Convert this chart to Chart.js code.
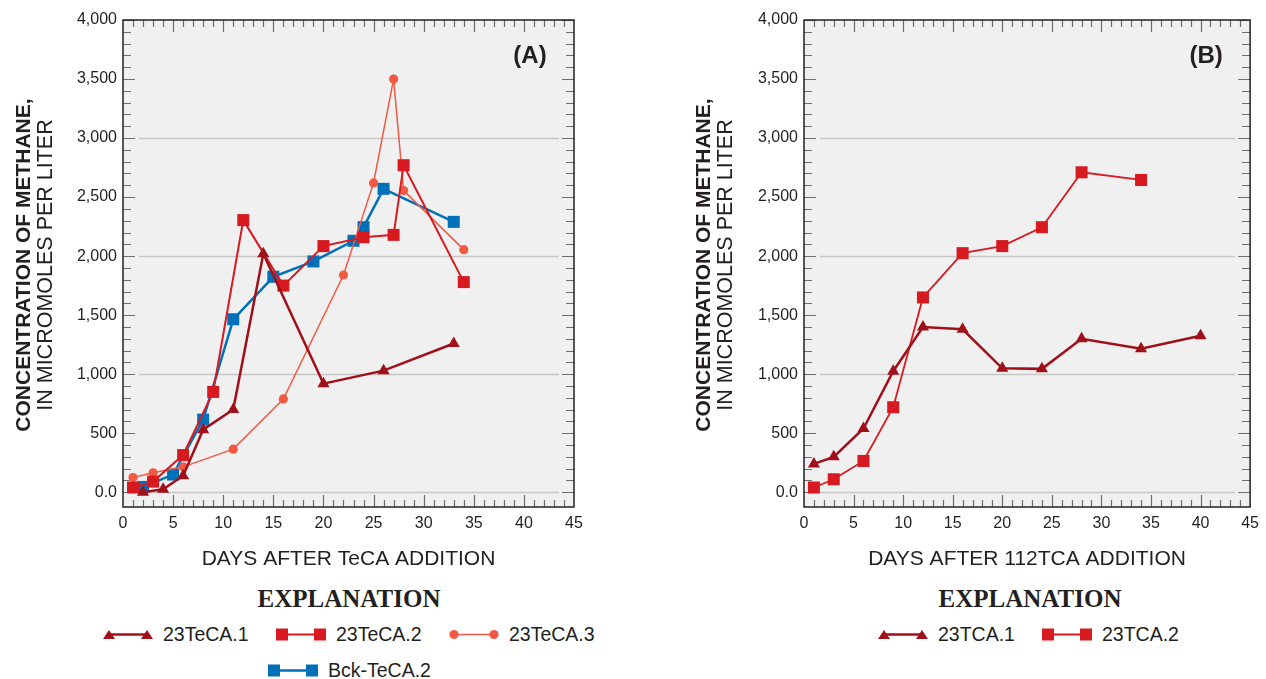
<!DOCTYPE html>
<html>
<head>
<meta charset="utf-8">
<script src="https://cdn.jsdelivr.net/npm/chart.js@4"></script>
<style>
  html, body { margin: 0; padding: 0; background: #fff; }
  #page { position: relative; width: 1266px; height: 679px; overflow: hidden; font-family: "Liberation Sans", Arial, sans-serif; color: #231f20; }
  .panel { position: absolute; top: 0; height: 580px; }
  #wrapA { left: 0; width: 633px; }
  #wrapB { left: 680px; width: 586px; }
  .ytitle { position: absolute; width: 420px; height: 46px; transform: rotate(-90deg); text-align: center; font-size: 21.5px; line-height: 22px; white-space: nowrap; }
  .ytitle b { font-weight: bold; font-size: 21px; }
  .expl { position: absolute; font-family: "Liberation Serif", "Times New Roman", serif; font-weight: bold; font-size: 25px; text-align: center; width: 300px; }
  .leg { position: absolute; display: flex; align-items: center; font-size: 19.5px; white-space: nowrap; }
  .leg svg { margin-right: 10px; }
</style>
</head>
<body>
<div id="page">
  <div class="panel" id="wrapA"><canvas id="chartA"></canvas></div>
  <div class="panel" id="wrapB"><canvas id="chartB"></canvas></div>

  <div class="ytitle" style="left:-175px; top:242px;"><b>CONCENTRATION OF METHANE,</b><br>IN MICROMOLES PER LITER</div>
  <div class="ytitle" style="left:505px; top:242px;"><b>CONCENTRATION OF METHANE,</b><br>IN MICROMOLES PER LITER</div>

  <div class="expl" style="left:199px; top:585px;">EXPLANATION</div>
  <div class="expl" style="left:880px; top:585px;">EXPLANATION</div>

  <div id="legendA"></div>
  <div id="legendB"></div>
</div>

<script>
// Tick labels shared by both panels
const yTickValues = [0, 500, 1000, 1500, 2000, 2500, 3000, 3500, 4000];
const yTickLabels = ['0.0', '500', '1,000', '1,500', '2,000', '2,500', '3,000', '3,500', '4,000'];
const xTickValues = [0, 5, 10, 15, 20, 25, 30, 35, 40, 45];

// Panel A: methane after TeCA addition (micromoles per liter)
const daysTeCA1 = [2, 4, 6, 8, 11, 14, 20, 26, 33];
const methaneTeCA1 = [0, 25, 140, 530, 700, 2020, 920, 1030, 1260];

const daysTeCA2 = [1, 3, 6, 9, 12, 16, 20, 24, 27, 28, 34];
const methaneTeCA2 = [40, 90, 315, 850, 2305, 1750, 2085, 2160, 2180, 2770, 1780];

const daysTeCA3 = [1, 3, 6, 11, 16, 22, 25, 27, 28, 34];
const methaneTeCA3 = [125, 165, 215, 365, 790, 1840, 2620, 3500, 2555, 2055];

const daysBck2 = [2, 5, 8, 11, 15, 19, 23, 24, 26, 33];
const methaneBck2 = [45, 150, 615, 1465, 1825, 1955, 2130, 2245, 2570, 2290];

// Panel B: methane after 112TCA addition
const daysTCA1 = [1, 3, 6, 9, 12, 16, 20, 24, 28, 34, 40];
const methaneTCA1 = [240, 300, 540, 1025, 1400, 1380, 1050, 1045, 1300, 1215, 1325];

const daysTCA2 = [1, 3, 6, 9, 12, 16, 20, 24, 28, 34];
const methaneTCA2 = [40, 110, 265, 720, 1650, 2025, 2085, 2245, 2710, 2645];

const seriesNamesA = ['23TeCA.1', '23TeCA.2', '23TeCA.3', 'Bck-TeCA.2'];
const seriesNamesB = ['23TCA.1', '23TCA.2'];

const DARK_RED = '#a0101a';
const RED = '#d71920';
const SALMON = '#f05a45';
const BLUE = '#0070b8';

const pairs = (xs, ys) => xs.map((x, i) => ({ x: x, y: ys[i] }));

function series(label, xs, ys, color, style, radius, width) {
  return {
    label: label,
    data: pairs(xs, ys),
    borderColor: color,
    backgroundColor: color,
    borderWidth: width,
    pointStyle: style,
    pointRadius: radius,
    pointHoverRadius: radius,
    pointBorderWidth: 0,
    pointBackgroundColor: color,
    tension: 0
  };
}

// Plot frame, inside tick marks, inset grid lines and panel letter
const framePlugin = {
  id: 'frame',
  beforeDatasetsDraw(chart, args, opts) {
    const { ctx, chartArea: a, scales } = chart;
    const xs = scales.x, ys = scales.y;
    ctx.save();
    ctx.fillStyle = '#f0f0f0';
    ctx.fillRect(a.left, a.top, a.right - a.left, a.bottom - a.top);

    // grid lines every 1,000
    ctx.strokeStyle = '#c6c6c6';
    ctx.lineWidth = 1.5;
    [0, 1000, 2000, 3000].forEach(v => {
      const y = Math.round(ys.getPixelForValue(v)) + 0.5;
      ctx.beginPath();
      ctx.moveTo(a.left + 16, y);
      ctx.lineTo(a.right - 15, y);
      ctx.stroke();
    });

    // tick marks pointing inward
    ctx.strokeStyle = '#6d6e71';
    ctx.lineWidth = 1.2;
    for (let v = 0; v <= 4000; v += 100) {
      const y = Math.round(ys.getPixelForValue(v)) + 0.5;
      const len = v % 500 === 0 ? 12 : 8;
      ctx.beginPath();
      ctx.moveTo(a.left, y); ctx.lineTo(a.left + len, y);
      ctx.moveTo(a.right, y); ctx.lineTo(a.right - len, y);
      ctx.stroke();
    }
    for (let d = 1; d < 45; d++) {
      const x = Math.round(xs.getPixelForValue(d)) + 0.5;
      const len = d % 5 === 0 ? 12 : 7;
      ctx.beginPath();
      ctx.moveTo(x, a.top); ctx.lineTo(x, a.top + len);
      ctx.moveTo(x, a.bottom); ctx.lineTo(x, a.bottom - len);
      ctx.stroke();
    }

    // panel letter
    ctx.fillStyle = '#231f20';
    ctx.font = 'bold 24px "Liberation Sans", Arial, sans-serif';
    ctx.textAlign = 'center';
    ctx.textBaseline = 'middle';
    ctx.fillText(opts.letter, a.right - 44, a.top + 36);
    ctx.restore();
  },
  afterDatasetsDraw(chart) {
    const { ctx, chartArea: a } = chart;
    ctx.save();
    ctx.strokeStyle = '#231f20';
    ctx.lineWidth = 1.5;
    ctx.strokeRect(a.left, a.top, a.right - a.left, a.bottom - a.top);
    ctx.restore();
  }
};

function makeChart(canvasId, datasets, xTitle, yAxisWidth, rightPad, letter) {
  const tickFont = { family: '"Liberation Sans", Arial, sans-serif', size: 16 };
  return new Chart(document.getElementById(canvasId), {
    type: 'line',
    data: { datasets: datasets },
    plugins: [framePlugin],
    options: {
      responsive: true,
      maintainAspectRatio: false,
      animation: false,
      events: [],
      layout: { padding: { top: 20, right: rightPad, left: 0, bottom: 0 } },
      plugins: {
        legend: { display: false },
        tooltip: { enabled: false },
        frame: { letter: letter }
      },
      scales: {
        x: {
          type: 'linear',
          min: 0,
          max: 45,
          grid: { display: false, drawTicks: false },
          border: { display: false },
          afterBuildTicks: s => { s.ticks = xTickValues.map(v => ({ value: v })); },
          afterFit: s => { s.height = 73; },
          ticks: { color: '#231f20', font: tickFont, padding: 7, maxRotation: 0, autoSkip: false, callback: v => String(v) },
          title: { display: true, text: xTitle, color: '#231f20', font: { family: '"Liberation Sans", Arial, sans-serif', size: 21 }, padding: { top: 0, bottom: 8 } }
        },
        y: {
          type: 'linear',
          min: -125,
          max: 4000,
          grid: { display: false, drawTicks: false },
          border: { display: false },
          afterBuildTicks: s => { s.ticks = yTickValues.map(v => ({ value: v })); },
          afterFit: s => { s.width = yAxisWidth; },
          ticks: {
            color: '#231f20', font: tickFont, padding: 6, autoSkip: false,
            callback: v => yTickLabels[yTickValues.indexOf(v)]
          }
        }
      }
    }
  });
}

makeChart('chartA', [
  series(seriesNamesA[0], daysTeCA1, methaneTeCA1, DARK_RED, 'triangle', 7, 2.5),
  series(seriesNamesA[1], daysTeCA2, methaneTeCA2, RED, 'rect', 8.5, 2),
  series(seriesNamesA[2], daysTeCA3, methaneTeCA3, SALMON, 'circle', 4.6, 1.5),
  series(seriesNamesA[3], daysBck2, methaneBck2, BLUE, 'rect', 8.5, 2.5)
], 'DAYS AFTER TeCA ADDITION', 123, 59, '(A)');

makeChart('chartB', [
  series(seriesNamesB[0], daysTCA1, methaneTCA1, DARK_RED, 'triangle', 7, 2.5),
  series(seriesNamesB[1], daysTCA2, methaneTCA2, RED, 'rect', 8.5, 1.8)
], 'DAYS AFTER 112TCA ADDITION', 124, 11, '(B)');

// Legend entries: a short line with a marker at each end, then the name
function icon(color, style, width) {
  let m1 = '', m2 = '';
  if (style === 'triangle') {
    m1 = '<polygon points="6,3 12,12 0,12" fill="' + color + '"/>';
    m2 = '<polygon points="44,3 50,12 38,12" fill="' + color + '"/>';
  } else if (style === 'rect') {
    m1 = '<rect x="0" y="1.5" width="12" height="12" fill="' + color + '"/>';
    m2 = '<rect x="38" y="1.5" width="12" height="12" fill="' + color + '"/>';
  } else {
    m1 = '<circle cx="5" cy="7.5" r="4.6" fill="' + color + '"/>';
    m2 = '<circle cx="45" cy="7.5" r="4.6" fill="' + color + '"/>';
  }
  return '<svg width="50" height="15" viewBox="0 0 50 15">' +
    '<line x1="4" y1="7.5" x2="46" y2="7.5" stroke="' + color + '" stroke-width="' + width + '"/>' + m1 + m2 + '</svg>';
}

function addLegend(parentId, entries) {
  const parent = document.getElementById(parentId);
  entries.forEach(e => {
    const d = document.createElement('div');
    d.className = 'leg';
    d.style.left = e.left + 'px';
    d.style.top = e.top + 'px';
    d.innerHTML = icon(e.color, e.style, e.width) + '<span>' + e.name + '</span>';
    parent.appendChild(d);
  });
}

addLegend('legendA', [
  { name: seriesNamesA[0], color: DARK_RED, style: 'triangle', width: 2.5, left: 103, top: 623 },
  { name: seriesNamesA[1], color: RED, style: 'rect', width: 2, left: 276, top: 623 },
  { name: seriesNamesA[2], color: SALMON, style: 'circle', width: 1.5, left: 449, top: 623 },
  { name: seriesNamesA[3], color: BLUE, style: 'rect', width: 2.5, left: 268, top: 659 }
]);
addLegend('legendB', [
  { name: seriesNamesB[0], color: DARK_RED, style: 'triangle', width: 2.5, left: 878, top: 623 },
  { name: seriesNamesB[1], color: RED, style: 'rect', width: 1.8, left: 1042, top: 623 }
]);
</script>
</body>
</html>
